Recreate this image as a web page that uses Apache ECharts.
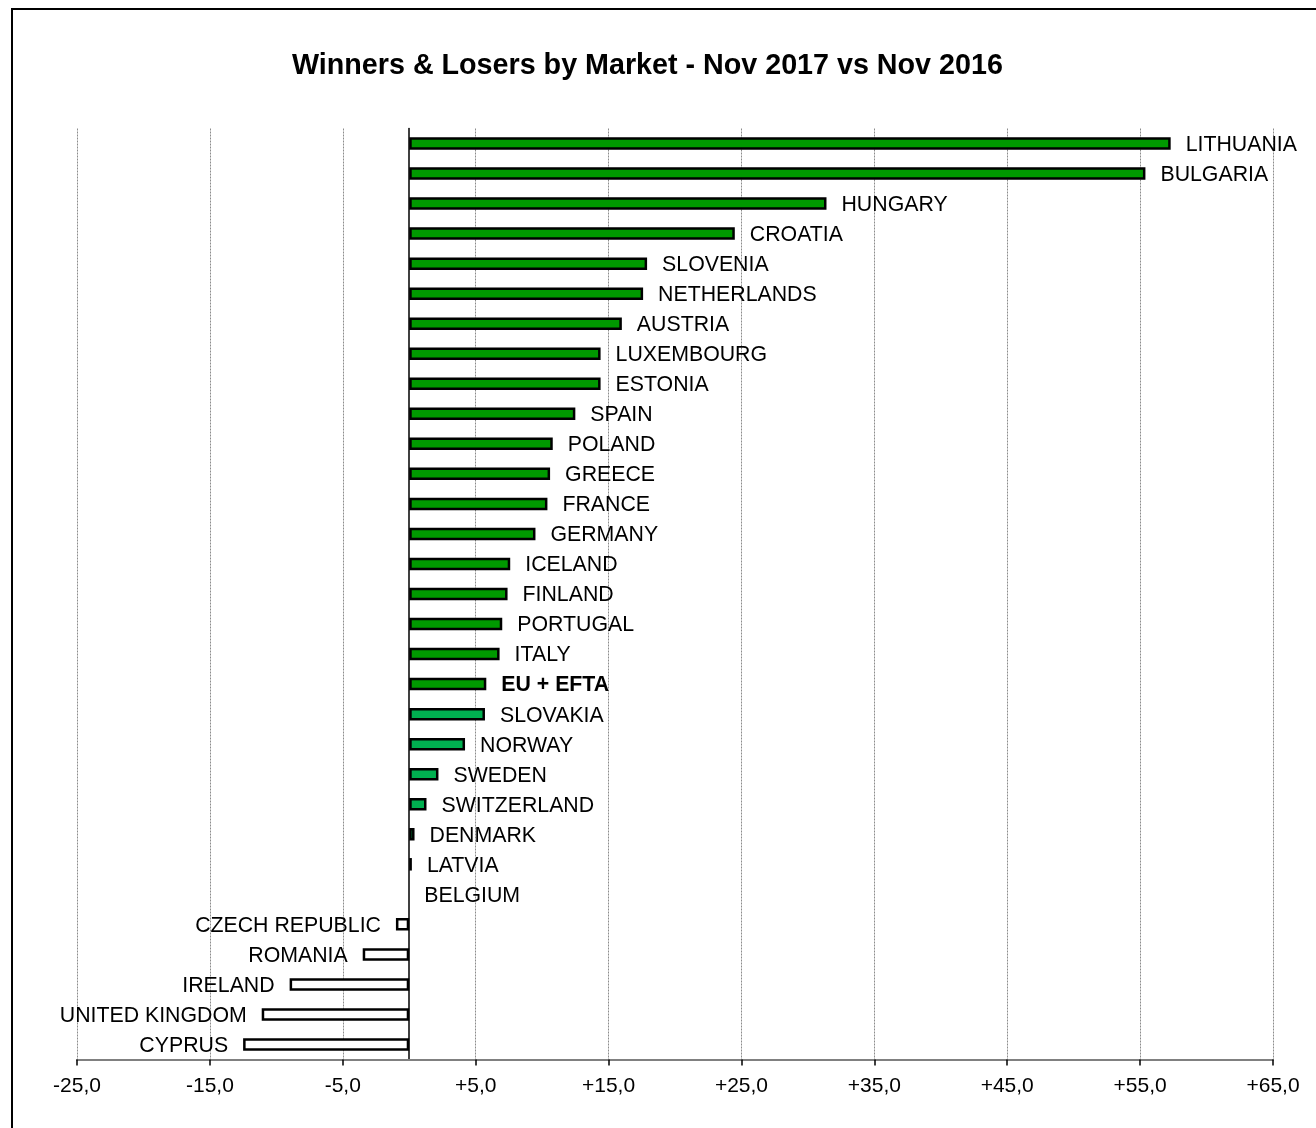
<!DOCTYPE html>
<html>
<head>
<meta charset="utf-8">
<script src="https://cdn.jsdelivr.net/npm/echarts@6/dist/echarts.min.js"></script>
<style>
html,body{margin:0;padding:0;background:#fff;}
#chart{width:1316px;height:1128px;}
</style>
</head>
<body>
<div id="chart"></div>
<script>
var markets = ["LITHUANIA","BULGARIA","HUNGARY","CROATIA","SLOVENIA","NETHERLANDS","AUSTRIA","LUXEMBOURG","ESTONIA","SPAIN","POLAND","GREECE","FRANCE","GERMANY","ICELAND","FINLAND","PORTUGAL","ITALY","EU + EFTA","SLOVAKIA","NORWAY","SWEDEN","SWITZERLAND","DENMARK","LATVIA","BELGIUM","CZECH REPUBLIC","ROMANIA","IRELAND","UNITED KINGDOM","CYPRUS"];
var changes = [57.3,55.4,31.4,24.5,17.9,17.6,16.0,14.4,14.4,12.5,10.8,10.6,10.4,9.5,7.6,7.4,7.0,6.8,5.8,5.7,4.2,2.2,1.3,0.4,0.2,0.0,-1.0,-3.5,-9.0,-11.1,-12.5];
var lightMarkets = ["SLOVAKIA","NORWAY","SWEDEN","SWITZERLAND","DENMARK"];
var totalLabel = "EU + EFTA";
var xTicks = [-25,-15,-5,5,15,25,35,45,55,65];

function fmt(v){
  var s = Math.abs(v).toFixed(1).replace('.', ',');
  return (v > 0 ? '+' : (v < 0 ? '-' : '')) + s;
}

var data = markets.map(function(m, i){
  var v = changes[i];
  var fill = v < 0 ? '#ffffff' : (lightMarkets.indexOf(m) >= 0 ? '#00b050' : '#009900');
  return {
    value: v,
    itemStyle: {color: fill, borderColor: '#000', borderWidth: v === 0 ? 0 : 2.5},
    label: {
      position: v < 0 ? 'left' : 'right',
      fontWeight: m === totalLabel ? 'bold' : 'normal'
    }
  };
});

var chart = echarts.init(document.getElementById('chart'), null, {renderer:'canvas'});
chart.setOption({
  animation: false,
  backgroundColor: '#fff',
  title: {
    text: 'Winners & Losers by Market - Nov 2017 vs Nov 2016',
    left: 287,
    top: 47,
    textStyle: {fontFamily: 'Liberation Sans, Arial, sans-serif', fontSize: 28.7, fontWeight: 'bold', color: '#000'}
  },
  graphic: [{
    type: 'rect',
    shape: {x: 12, y: 9, width: 1400, height: 1300},
    style: {fill: 'none', stroke: '#000', lineWidth: 2},
    silent: true,
    z: 100
  }],
  grid: {left: 77, right: 43, top: 128.5, bottom: 68.5, containLabel: false},
  xAxis: {
    type: 'value',
    min: xTicks[0],
    max: xTicks[xTicks.length - 1],
    interval: xTicks[1] - xTicks[0],
    axisLine: {show: true, onZero: false, lineStyle: {color: '#808080', width: 2}},
    axisTick: {show: true, length: 6, lineStyle: {color: '#000', width: 1.5}},
    axisLabel: {
      margin: 16,
      fontFamily: 'Liberation Sans, Arial, sans-serif',
      fontSize: 21,
      color: '#000',
      formatter: function(v){ return fmt(v); }
    },
    splitLine: {show: true, lineStyle: {color: '#8c8c8c', type: [2, 1], width: 1}}
  },
  yAxis: {
    type: 'category',
    inverse: true,
    data: markets,
    axisLine: {show: true, onZero: true, lineStyle: {color: '#000', width: 1.5}},
    axisTick: {show: false},
    axisLabel: {show: false},
    splitLine: {show: false}
  },
  series: [{
    type: 'bar',
    data: data,
    barWidth: 12.5,
    label: {
      show: true,
      distance: 15,
      offset: [0, 1.5],
      fontFamily: 'Liberation Sans, Arial, sans-serif',
      fontSize: 21.3,
      color: '#000',
      formatter: function(p){ return p.name; }
    },
    z: 3
  }]
});
</script>
</body>
</html>
